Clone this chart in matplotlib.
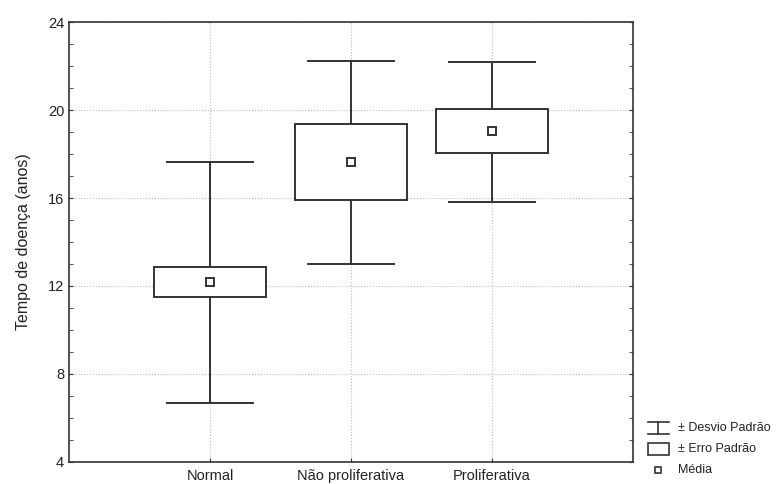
import matplotlib
matplotlib.use("Agg")
import matplotlib.pyplot as plt
from matplotlib.lines import Line2D
from matplotlib.patches import Rectangle
from matplotlib.ticker import MultipleLocator
import numpy as np

plt.rcParams['font.family'] = ['Liberation Sans', 'DejaVu Sans']

grupos = ["Normal", "Não proliferativa", "Proliferativa"]
media = [12.17, 17.65, 19.05]
erro_sup = [12.85, 19.36, 20.03]
erro_inf = [11.52, 15.92, 18.03]
desvio_sup = [17.65, 22.22, 22.20]
desvio_inf = [6.67, 13.0, 15.8]

cor = "#333333"
pos = np.arange(1, len(grupos) + 1)
larg_caixa = 0.8
larg_barra = 0.61

fig = plt.figure(figsize=(7.76, 4.84), dpi=100)
ax = fig.add_axes([0.0889, 0.0455, 0.7268, 0.909])

for i, x in enumerate(pos):
    ax.plot([x, x], [desvio_inf[i], erro_inf[i]], color=cor, lw=1.4, zorder=3)
    ax.plot([x, x], [erro_sup[i], desvio_sup[i]], color=cor, lw=1.4, zorder=3)
    ax.plot([x - larg_barra / 2, x + larg_barra / 2], [desvio_inf[i]] * 2, color=cor, lw=1.4, zorder=3)
    ax.plot([x - larg_barra / 2, x + larg_barra / 2], [desvio_sup[i]] * 2, color=cor, lw=1.4, zorder=3)
    ax.add_patch(Rectangle((x - larg_caixa / 2, erro_inf[i]), larg_caixa, erro_sup[i] - erro_inf[i],
                           facecolor="white", edgecolor=cor, lw=1.4, zorder=3))
ax.plot(pos, media, linestyle="none", marker="s", markersize=5.5, markerfacecolor="white",
        markeredgecolor=cor, markeredgewidth=1.4, zorder=4)

ax.set_xlim(0, 4)
ax.set_ylim(4, 24)
ax.set_xticks(pos)
ax.set_xticklabels(grupos, fontsize=10.5, color="#222222")
ax.set_yticks([4, 8, 12, 16, 20, 24])
ax.yaxis.set_minor_locator(MultipleLocator(1))
ax.tick_params(axis="y", labelsize=10.5, labelcolor="#222222", direction="in", length=3,
               right=True, color=cor)
ax.tick_params(axis="y", which="minor", direction="in", length=3, right=True, color=cor)
ax.tick_params(axis="x", direction="in", length=3, color=cor, pad=5)
ax.set_ylabel("Tempo de doença (anos)", fontsize=11.5, color="#222222", labelpad=12)
ax.grid(True, linestyle=":", color="#bbbbbb", lw=0.8, zorder=0)
for s in ax.spines.values():
    s.set_color(cor)
    s.set_linewidth(1.2)

# legenda desenhada à parte, fora dos eixos
fy = [0.116, 0.072, 0.029]
fig.add_artist(Line2D([0.835, 0.862], [fy[0] + 0.012] * 2, color=cor, lw=1.2))
fig.add_artist(Line2D([0.835, 0.862], [fy[0] - 0.012] * 2, color=cor, lw=1.2))
fig.add_artist(Line2D([0.8485, 0.8485], [fy[0] - 0.012, fy[0] + 0.012], color=cor, lw=1.2))
fig.add_artist(Rectangle((0.835, fy[1] - 0.012), 0.027, 0.024, facecolor="white", edgecolor=cor, lw=1.2))
fig.add_artist(Line2D([0.8485], [fy[2]], marker="s", markersize=5, markerfacecolor="white",
                      markeredgecolor=cor, markeredgewidth=1.2, linestyle="none"))
for y, t in zip(fy, ["± Desvio Padrão", "± Erro Padrão", "Média"]):
    fig.text(0.874, y, t, fontsize=9, va="center", color="#222222")

fig.savefig("out.png", dpi=100)
